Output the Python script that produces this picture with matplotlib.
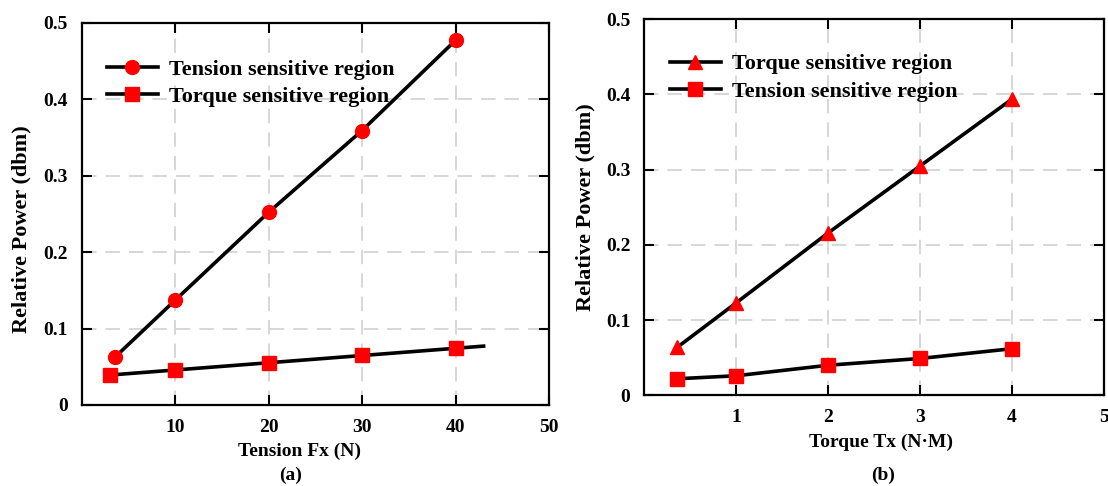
#!/usr/bin/env python3
import numpy as np
import matplotlib
matplotlib.use('Agg')
import matplotlib.pyplot as plt

plt.rcParams['font.family'] = ['Liberation Serif', 'DejaVu Serif']
plt.rcParams['font.weight'] = 'bold'

# (a) response to axial tension
tension_fx = [3.6, 10, 20, 30, 40]
tension_region_a = [0.063, 0.137, 0.252, 0.359, 0.477]
torque_fx = [3.0, 10, 20, 30, 40]
torque_region_a = [0.039, 0.046, 0.055, 0.065, 0.074]
torque_fit_end = 43  # linear fit drawn a little past the last point

# (b) response to torque
torque_tx = [0.36, 1, 2, 3, 4]
torque_region_b = [0.064, 0.123, 0.216, 0.305, 0.394]
tension_region_b = [0.022, 0.026, 0.040, 0.049, 0.062]

y_ticks = [0, 0.1, 0.2, 0.3, 0.4, 0.5]

fig = plt.figure(figsize=(11.08, 4.86), dpi=100)
ax_a = fig.add_axes([0.0737, 0.1667, 0.4218, 0.7866])
ax_b = fig.add_axes([0.5815, 0.1866, 0.4149, 0.7737])

line_kw = dict(color='black', lw=2.6, markerfacecolor='red', markeredgecolor='red')


def style_axes(ax, xticks, xlim, xpad):
    ax.set_xlim(*xlim)
    ax.set_ylim(0, 0.5)
    ax.set_xticks(xticks)
    ax.set_yticks(y_ticks)
    ax.set_yticklabels(['0' if v == 0 else '%.1f' % v for v in y_ticks])
    ax.tick_params(direction='in', length=7, width=1.5, top=True, right=True,
                   labelsize=14)
    ax.tick_params(axis='y', pad=10)
    ax.tick_params(axis='x', pad=xpad)
    for s in ax.spines.values():
        s.set_linewidth(1.6)
    ax.set_axisbelow(True)
    ax.grid(True, color='#d4d4d4', linestyle=(0, (8, 5)), lw=1.3)


legend_kw = dict(loc='upper left', frameon=False, fontsize=16, handlelength=2.3,
                 handletextpad=0.5, labelspacing=0.32, borderpad=0, borderaxespad=0)

# ---- panel (a)
ax_a.plot(tension_fx, tension_region_a, marker='o', ms=10, label='Tension sensitive region', **line_kw)
fit = np.polyfit(torque_fx, torque_region_a, 1)
fit_x = np.array([torque_fx[0], torque_fit_end])
ax_a.plot(fit_x, np.polyval(fit, fit_x), color='black', lw=2.6)
ax_a.plot(torque_fx, torque_region_a, marker='s', ms=9.5, ls='none',
          markerfacecolor='red', markeredgecolor='red')
# legend proxy for the fitted square series
ax_a.plot([], [], marker='s', ms=9.5, label='Torque sensitive region', **line_kw)

style_axes(ax_a, [10, 20, 30, 40, 50], (0, 50), 10)
ax_a.set_ylabel('Relative Power (dbm)', fontsize=16, fontweight='bold')
ax_a.yaxis.set_label_coords(-0.108, 0.46)
ax_a.set_xlabel('Tension Fx (N)', fontsize=14, fontweight='bold')
ax_a.xaxis.label.set_va('center')
ax_a.xaxis.set_label_coords(0.467, -0.12)
ax_a.text(0.446, -0.183, '(a)', transform=ax_a.transAxes, ha='center', va='center',
          fontsize=14, fontweight='bold')
ax_a.legend(bbox_to_anchor=(0.054, 0.905), **legend_kw)

# ---- panel (b)
ax_b.plot(torque_tx, torque_region_b, marker='^', ms=10, label='Torque sensitive region', **line_kw)
ax_b.plot(torque_tx, tension_region_b, marker='s', ms=9.5, label='Tension sensitive region', **line_kw)

style_axes(ax_b, [1, 2, 3, 4, 5], (0, 5), 10)
ax_b.set_ylabel('Relative Power (dbm)', fontsize=16, fontweight='bold')
ax_b.yaxis.set_label_coords(-0.107, 0.5)
ax_b.set_xlabel('Torque Tx (N\u00b7M)', fontsize=14, fontweight='bold')
ax_b.xaxis.label.set_va('center')
ax_b.xaxis.set_label_coords(0.514, -0.124)
ax_b.text(0.52, -0.212, '(b)', transform=ax_b.transAxes, ha='center', va='center',
          fontsize=14, fontweight='bold')
ax_b.legend(bbox_to_anchor=(0.0555, 0.908), **legend_kw)

plt.savefig('out.png', dpi=100)
